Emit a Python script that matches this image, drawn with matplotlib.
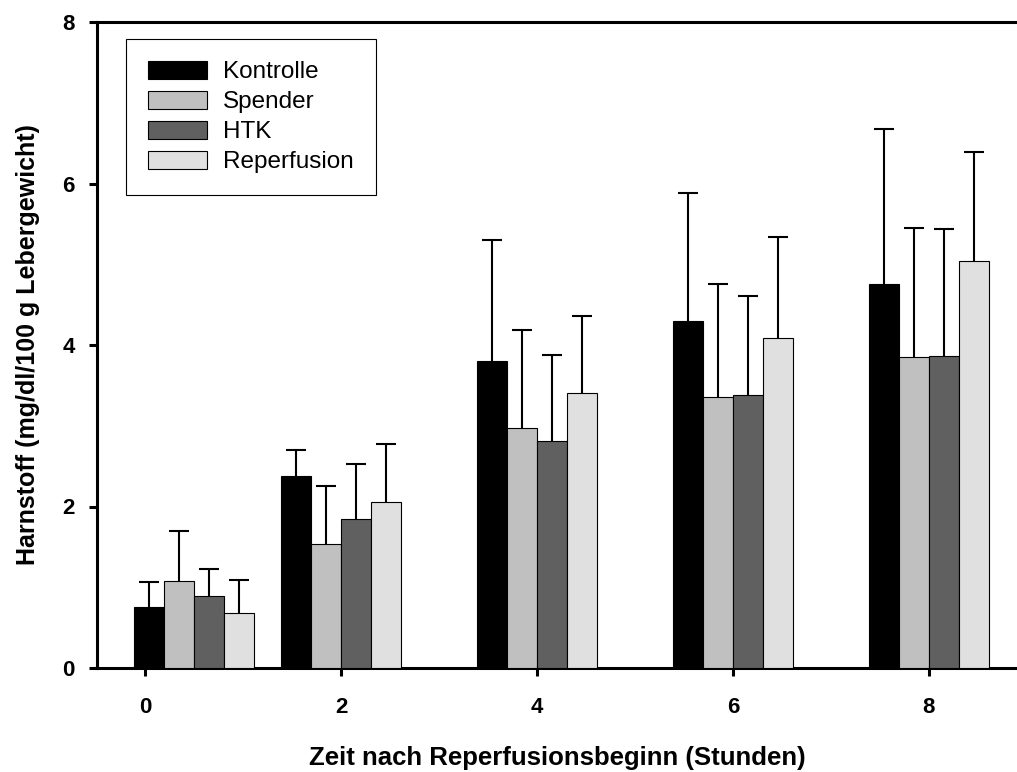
import matplotlib
matplotlib.use("Agg")
import matplotlib.pyplot as plt
import numpy as np


# data
zeit = [0.5, 2, 4, 6, 8]
tick_werte = [0, 2, 4, 6, 8]
gruppen = ["Kontrolle", "Spender", "HTK", "Reperfusion"]
kontrolle = [0.76, 2.38, 3.80, 4.30, 4.75]
spender = [1.08, 1.54, 2.97, 3.35, 3.85]
htk = [0.89, 1.85, 2.81, 3.38, 3.86]
reperfusion = [0.68, 2.06, 3.40, 4.09, 5.04]
kontrolle_sd = [0.31, 0.32, 1.50, 1.58, 1.92]
spender_sd = [0.62, 0.72, 1.21, 1.41, 1.60]
htk_sd = [0.34, 0.68, 1.06, 1.23, 1.58]
reperfusion_sd = [0.41, 0.71, 0.96, 1.25, 1.35]
farben = ["#000000", "#c0c0c0", "#606060", "#e0e0e0"]

plt.rcParams["font.family"] = ["Liberation Sans", "DejaVu Sans"]

fig = plt.figure(figsize=(10.17, 7.72), dpi=100)
ax = fig.add_axes([97 / 1017, 1 - 668 / 772, 1 - 97 / 1017, (668 - 22) / 772])

breite = 0.306
werte = [kontrolle, spender, htk, reperfusion]
fehler = [kontrolle_sd, spender_sd, htk_sd, reperfusion_sd]
x = np.array(zeit)
for i in range(4):
    pos = x + (i - 1.5) * breite
    ax.bar(pos, werte[i], width=breite, color=farben[i], edgecolor="black",
           linewidth=0.8, label=gruppen[i], zorder=3)
    # symmetric bars drawn below the boxes, so only the upper half shows
    ax.errorbar(pos, werte[i], yerr=fehler[i], fmt="none", ecolor="black",
                elinewidth=1.5, capsize=7, capthick=1.5, zorder=2)

ax.set_xlim(-0.49, 8.9)
ax.set_ylim(0, 8)
ax.set_xticks(tick_werte)
ax.set_yticks([0, 2, 4, 6, 8])

for s in ["left", "bottom", "top"]:
    ax.spines[s].set_linewidth(2.2)
ax.spines["right"].set_visible(False)
ax.tick_params(axis="x", direction="out", length=6, width=2.2, pad=15, labelsize=16)
ax.tick_params(axis="y", direction="out", length=6, width=2.2, pad=10, labelsize=16)
for lab in ax.get_xticklabels() + ax.get_yticklabels():
    lab.set_fontweight("bold")

ax.set_xlabel("Zeit nach Reperfusionsbeginn (Stunden)", fontsize=18.5,
              fontweight="bold", labelpad=20)
ax.set_ylabel("Harnstoff (mg/dl/100 g Lebergewicht)", fontsize=18,
              fontweight="bold", labelpad=16)

leg = fig.legend(loc="upper left", bbox_to_anchor=(126 / 1017, 1 - 39 / 772),
                 borderaxespad=0, fontsize=17.5, handlelength=2.43,
                 handleheight=0.78, handletextpad=0.66, labelspacing=0.3,
                 borderpad=0.9, fancybox=False, framealpha=1)
leg.get_frame().set_edgecolor("black")
leg.get_frame().set_linewidth(0.8)

fig.savefig("out.png", dpi=100)
